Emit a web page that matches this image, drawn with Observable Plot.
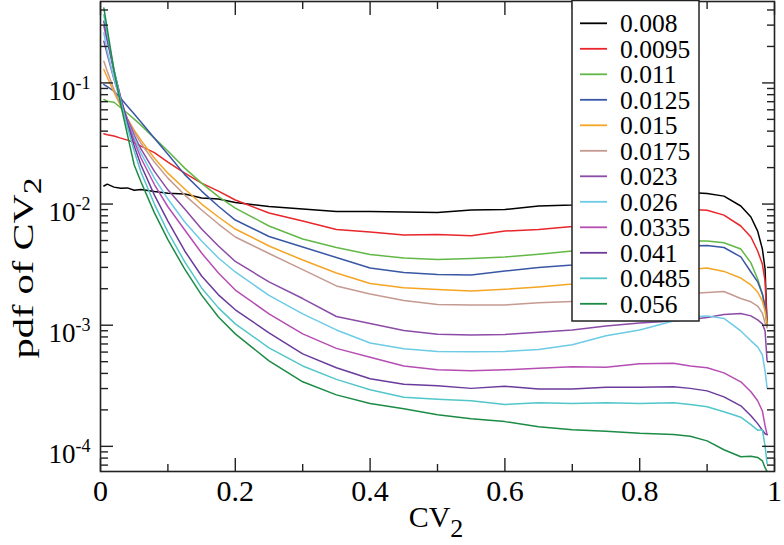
<!DOCTYPE html>
<html><head><meta charset="utf-8">
<script src="https://cdn.jsdelivr.net/npm/d3@7"></script>
<script src="https://cdn.jsdelivr.net/npm/@observablehq/plot@0.6"></script>
<style>
html,body{margin:0;padding:0;background:#fff;}
#chart svg{display:block;}
</style></head><body><div id="chart"></div>
<script>
// ---- data ----
const cv = [0.005, 0.01, 0.02, 0.03, 0.04, 0.05, 0.06, 0.08, 0.1, 0.125, 0.15, 0.175, 0.2, 0.25, 0.3, 0.35, 0.4, 0.45, 0.5, 0.55, 0.6, 0.65, 0.7, 0.75, 0.8, 0.85, 0.875, 0.9, 0.925, 0.95, 0.965, 0.975, 0.982, 0.986, 0.989];
const seriesLabels = ["0.008", "0.0095", "0.011", "0.0125", "0.015", "0.0175", "0.023", "0.026", "0.0335", "0.041", "0.0485", "0.056"];
const pdf_0008 = [0.0141, 0.0146, 0.0138, 0.0135, 0.0136, 0.0130, 0.0132, 0.0127, 0.0123, 0.0121, 0.0112, 0.0110, 0.0103, 0.00954, 0.0091, 0.00867, 0.00867, 0.0086, 0.0085, 0.00893, 0.0090, 0.00964, 0.00982, 0.0102, 0.0108, 0.01164, 0.01245, 0.0122, 0.01163, 0.00964, 0.00782, 0.00598, 0.00426, 0.00291, 0.00099];
const pdf_00095 = [0.0381, 0.0374, 0.0364, 0.035, 0.0337, 0.0322, 0.0301, 0.0266, 0.0222, 0.018, 0.0149, 0.0128, 0.0108, 0.00843, 0.00724, 0.00616, 0.00588, 0.00555, 0.0056, 0.00547, 0.00598, 0.00618, 0.00653, 0.00724, 0.00796, 0.00876, 0.0090, 0.0089, 0.0081, 0.00659, 0.00535, 0.0041, 0.0032, 0.00232, 0.00099];
const pdf_0011 = [0.0730, 0.0707, 0.0693, 0.0624, 0.0562, 0.0502, 0.0448, 0.035, 0.0274, 0.0198, 0.0149, 0.01153, 0.00927, 0.00659, 0.00515, 0.00438, 0.00383, 0.00359, 0.00349, 0.00356, 0.00366, 0.00385, 0.0041, 0.00434, 0.00459, 0.00486, 0.00496, 0.00496, 0.0048, 0.00426, 0.00327, 0.00241, 0.00181, 0.00136, 0.00099];
const pdf_00125 = [0.097, 0.093, 0.0855, 0.0748, 0.0643, 0.0553, 0.0475, 0.035, 0.0258, 0.0175, 0.0128, 0.0096, 0.00738, 0.0054, 0.00442, 0.00362, 0.00297, 0.00272, 0.00262, 0.0026, 0.0028, 0.003, 0.00314, 0.00352, 0.00394, 0.00434, 0.00451, 0.00455, 0.00438, 0.00366, 0.00275, 0.00228, 0.00181, 0.00144, 0.001026];
const pdf_0015 = [0.129, 0.1114, 0.0838, 0.0643, 0.0507, 0.0407, 0.0337, 0.0239, 0.018, 0.0133, 0.0100, 0.00782, 0.00622, 0.00451, 0.00345, 0.0027, 0.00221, 0.00204, 0.00197, 0.00192, 0.00198, 0.00207, 0.00219, 0.00236, 0.00255, 0.00278, 0.00288, 0.00297, 0.00278, 0.00245, 0.00215, 0.00188, 0.00158, 0.00131, 0.001026];
const pdf_00175 = [0.151, 0.1249, 0.0887, 0.0655, 0.0502, 0.0392, 0.0318, 0.0222, 0.01637, 0.01186, 0.00893, 0.00684, 0.00535, 0.00391, 0.00288, 0.00211, 0.00181, 0.0016, 0.00148, 0.00147, 0.00147, 0.00153, 0.00157, 0.00162, 0.00168, 0.00178, 0.00183, 0.00186, 0.0019, 0.00166, 0.00156, 0.00144, 0.00126, 0.001044, 0.00095];
const pdf_0023 = [0.221, 0.1725, 0.107, 0.0720, 0.050, 0.0370, 0.0285, 0.0186, 0.0131, 0.0091, 0.00622, 0.00451, 0.00336, 0.00228, 0.00166, 0.00118, 0.001035, 0.000906, 0.000843, 0.000832, 0.00084, 0.000873, 0.000914, 0.000987, 0.001044, 0.001084, 0.001116, 0.001159, 0.001227, 0.001247, 0.001194, 0.001106, 0.001026, 0.000897, 0.000508];
const pdf_0026 = [0.258, 0.1824, 0.1093, 0.0707, 0.0483, 0.035, 0.0263, 0.01637, 0.011, 0.00711, 0.00496, 0.00359, 0.00275, 0.00176, 0.00124, 0.000914, 0.000714, 0.000638, 0.000608, 0.000603, 0.000608, 0.000631, 0.000690, 0.000817, 0.000914, 0.001084, 0.00117, 0.001194, 0.001138, 0.000897, 0.000743, 0.000662, 0.000569, 0.00042, 0.000304];
const pdf_00335 = [0.293, 0.221, 0.125, 0.0760, 0.0480, 0.0330, 0.0240, 0.0145, 0.0095, 0.00611, 0.00394, 0.0027, 0.00195, 0.00124, 0.000848, 0.000644, 0.000543, 0.000461, 0.000428, 0.00042, 0.000428, 0.000441, 0.000453, 0.000449, 0.00048, 0.000485, 0.000461, 0.000445, 0.000404, 0.000341, 0.000282, 0.000238, 0.000196, 0.000148, 0.000125];
const pdf_0041 = [0.323, 0.2335, 0.127, 0.0748, 0.0465, 0.0301, 0.021, 0.01186, 0.00724, 0.0041, 0.00255, 0.00178, 0.00134, 0.000865, 0.00058, 0.000445, 0.000361, 0.000325, 0.000316, 0.000301, 0.000313, 0.000298, 0.000298, 0.000307, 0.000307, 0.00031, 0.000301, 0.000287, 0.000256, 0.000216, 0.000179, 0.000154, 0.000136, 0.000127, 0.000125];
const pdf_00485 = [0.366, 0.252, 0.130, 0.0713, 0.0431, 0.0274, 0.0184, 0.0100, 0.00588, 0.00333, 0.00203, 0.00139, 0.001026, 0.00065, 0.000461, 0.000357, 0.000293, 0.000254, 0.000245, 0.000238, 0.000222, 0.000229, 0.000226, 0.000229, 0.000226, 0.000229, 0.000222, 0.000212, 0.000193, 0.000174, 0.000151, 0.000136, 0.000137, 0.000101, 0.000072];
const pdf_0056 = [0.415, 0.280, 0.127, 0.0664, 0.0373, 0.0210, 0.01528, 0.00846, 0.00508, 0.0029, 0.00177, 0.00117, 0.000848, 0.000508, 0.000341, 0.000266, 0.000226, 0.000204, 0.000182, 0.000169, 0.00016, 0.000145, 0.000137, 0.000133, 0.000128, 0.000125, 0.000121, 0.000111, 0.0000938, 0.000082, 0.000083, 0.000081, 0.000076, 0.0000667, 0.000062];
const seriesValues = [pdf_0008, pdf_00095, pdf_0011, pdf_00125, pdf_0015, pdf_00175, pdf_0023, pdf_0026, pdf_00335, pdf_0041, pdf_00485, pdf_0056];
const seriesColors = ["#000000", "#e8262b", "#62b846", "#3a57a6", "#f5a524", "#c59a90", "#8b4ba6", "#6ccbe5", "#b54db3", "#6a3b9c", "#52c6c9", "#1c8b45"];

const xMajor = [0, 0.2, 0.4, 0.6, 0.8, 1];
const xMinor = [0.1, 0.3, 0.5, 0.7, 0.9];
const yMajor = [1e-4, 1e-3, 1e-2, 1e-1];
const yDomain = [6.2e-5, 0.47];

// ---- build ----
const rows = seriesLabels.flatMap((s, i) => cv.map((x, j) => ({series: s, cv: x, pdf: seriesValues[i][j]})));
const yMinor = [];
for (let e = -5; e <= -1; e++) for (let m = 2; m <= 9; m++) {
  const v = m * Math.pow(10, e);
  if (v >= yDomain[0] && v <= yDomain[1]) yMinor.push(v);
}

const FONT = "'Liberation Serif', 'Times New Roman', serif";
const W = 784, H = 545;
const mL = 100, mR = 10, mT = 1, mB = 74;
const tickStyle = {stroke: "#222", strokeWidth: 1.4, tickFormat: () => ""};

const svg = Plot.plot({
  width: W, height: H,
  marginLeft: mL, marginRight: mR, marginTop: mT, marginBottom: mB,
  style: {fontFamily: FONT, background: "white", color: "black"},
  x: {domain: [0, 1], label: null},
  y: {type: "log", domain: yDomain, label: null},
  color: {domain: seriesLabels, range: seriesColors},
  marks: [
    Plot.line(rows, {x: "cv", y: "pdf", z: "series", stroke: "series", strokeWidth: 1.5, clip: true}),
    Plot.axisX(xMajor, {anchor: "bottom", tickSize: -13, ...tickStyle}),
    Plot.axisX(xMinor, {anchor: "bottom", tickSize: -7, ...tickStyle}),
    Plot.axisX(xMajor, {anchor: "top", tickSize: -13, ...tickStyle}),
    Plot.axisX(xMinor, {anchor: "top", tickSize: -7, ...tickStyle}),
    Plot.axisY(yMajor, {anchor: "left", tickSize: -13, ...tickStyle}),
    Plot.axisY(yMinor, {anchor: "left", tickSize: -8, ...tickStyle}),
    Plot.axisY(yMajor, {anchor: "right", tickSize: -13, ...tickStyle}),
    Plot.axisY(yMinor, {anchor: "right", tickSize: -8, ...tickStyle}),
    Plot.axisX(xMajor, {anchor: "bottom", tickSize: 0, tickPadding: 8, fontSize: 30, tickFormat: d => String(d)}),
    Plot.axisY(yMajor, {anchor: "left", tickSize: 0, tickPadding: 10, fontSize: 27, dy: 8, tickFormat: d => "10^" + Math.round(Math.log10(d))}),
    Plot.frame({stroke: "#222", strokeWidth: 1.6})
  ]
});

const s = d3.select(svg);
// superscripts for y tick labels
s.selectAll('g[aria-label="y-axis tick label"] text').each(function() {
  const t = d3.select(this);
  const parts = t.text().split("^");
  if (parts.length === 2) {
    t.text(parts[0]);
    t.append("tspan").attr("dy", -11).attr("font-size", 18).text(parts[1]);
  }
});

// axis titles
const xt = s.append("text").attr("x", 436).attr("y", 527).attr("text-anchor", "middle")
  .attr("font-size", 30).attr("font-family", FONT).attr("fill", "black");
xt.append("tspan").text("CV");
xt.append("tspan").attr("dy", 10).attr("font-size", 26).text("2");

const yt = s.append("text").attr("transform", "translate(33,268) rotate(-90) scale(1.35,1)").attr("text-anchor", "middle")
  .attr("font-size", 30).attr("font-family", FONT).attr("fill", "black");
yt.append("tspan").text("pdf of CV");
yt.append("tspan").attr("dy", 8).attr("font-size", 25).text("2");

// legend
const lg = s.append("g").attr("font-family", FONT).attr("text-anchor", "start");
lg.append("rect").attr("x", 572).attr("y", 0.5).attr("width", 127).attr("height", 320.5)
  .attr("fill", "white").attr("stroke", "#222").attr("stroke-width", 1.5);
seriesLabels.forEach((lab, i) => {
  const yy = 23.3 + 25.5 * i;
  lg.append("line").attr("x1", 580).attr("x2", 607).attr("y1", yy).attr("y2", yy)
    .attr("stroke", seriesColors[i]).attr("stroke-width", 1.8);
  lg.append("text").attr("x", 620).attr("y", yy + 9).attr("text-anchor", "start")
    .attr("font-size", 25.5).attr("fill", "black").text(lab);
});

document.getElementById("chart").appendChild(svg);
</script>
</body></html>
